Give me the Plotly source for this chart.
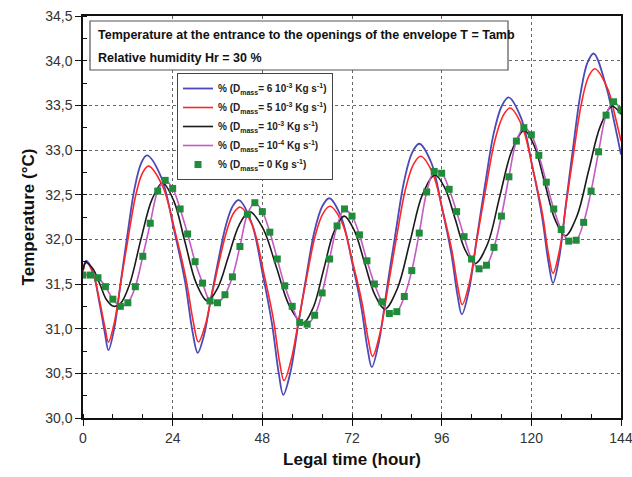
import plotly.graph_objects as go

# ---------------- data ----------------
blue_t = [0, 0.8, 2.6, 4.4, 5.9, 6.8, 8.35, 10.1, 11.95, 13.8, 15.55, 17.1, 20.9, 24.4, 27.3, 29.3,
          30.7, 32.35, 34.2, 36.2, 38.2, 40.05, 41.7, 45.0, 48.1, 50.6, 52.4, 53.6, 55.45, 57.55,
          59.75, 61.95, 64.05, 65.9, 69.1, 72.05, 74.45, 76.15, 77.3, 79.2, 81.35, 83.65, 85.95,
          88.1, 90.0, 93.2, 96.15, 98.55, 100.25, 101.4, 103.3, 105.4, 107.65, 109.9, 112.05,
          113.9, 117.25, 120.35, 122.85, 124.6, 125.8, 127.45, 129.3, 131.25, 133.2, 135.05,
          136.7, 140.1, 142.0, 144.0]
blue_v = [31.64, 31.76, 31.64, 31.29, 30.94, 30.76, 31.00, 31.52, 32.07, 32.57, 32.85, 32.94,
          32.70, 32.10, 31.53, 30.97, 30.73, 30.92, 31.33, 31.76, 32.15, 32.37, 32.44, 32.20,
          31.61, 31.05, 30.50, 30.26, 30.50, 31.03, 31.58, 32.09, 32.37, 32.46, 32.25, 31.74,
          31.25, 30.78, 30.57, 30.85, 31.45, 32.07, 32.65, 32.97, 33.07, 32.86, 32.34, 31.85,
          31.37, 31.16, 31.43, 32.01, 32.62, 33.18, 33.49, 33.59, 33.36, 32.80, 32.26, 31.74,
          31.51, 31.79, 32.41, 33.05, 33.64, 33.98, 34.08, 33.70, 33.35, 32.95]

red_t = [0, 0.8, 2.6, 4.4, 5.9, 6.8, 8.4, 10.2, 12.15, 14.1, 15.9, 17.5, 21.25, 24.75, 27.55,
         29.55, 30.9, 32.6, 34.5, 36.5, 38.5, 40.4, 42.1, 45.4, 48.4, 50.9, 52.6, 53.8, 55.65,
         57.75, 59.95, 62.15, 64.25, 66.1, 69.3, 72.25, 74.65, 76.35, 77.5, 79.45, 81.65, 83.95,
         86.25, 88.45, 90.4, 93.5, 96.4, 98.75, 100.4, 101.5, 103.4, 105.6, 107.9, 110.2, 112.4,
         114.3, 117.5, 120.5, 122.95, 124.65, 125.8, 127.5, 129.4, 131.4, 133.4, 135.3, 137.0,
         140.5, 142.3, 144.0]
red_v = [31.64, 31.74, 31.63, 31.32, 31.01, 30.85, 31.07, 31.54, 32.03, 32.49, 32.74, 32.82,
         32.60, 32.07, 31.56, 31.07, 30.85, 31.02, 31.38, 31.76, 32.10, 32.30, 32.36, 32.15,
         31.62, 31.12, 30.63, 30.42, 30.64, 31.10, 31.59, 32.04, 32.29, 32.37, 32.19, 31.73,
         31.30, 30.88, 30.69, 30.94, 31.47, 32.03, 32.55, 32.84, 32.93, 32.75, 32.30, 31.87,
         31.45, 31.27, 31.51, 32.04, 32.59, 33.10, 33.38, 33.47, 33.27, 32.77, 32.29, 31.82,
         31.62, 31.87, 32.42, 32.99, 33.52, 33.82, 33.91, 33.68, 33.40, 33.10]

black_t = [0, 0.8, 2.65, 4.5, 6.35, 8.2, 10.0, 12.5, 15.5, 18.5, 21.3, 24.3, 27.3, 30.3, 33.3,
           36.1, 38.95, 41.8, 44.6, 48.2, 51.75, 55.3, 58.9, 61.65, 64.4, 67.15, 69.9, 72.6,
           75.35, 78.1, 80.8, 84.15, 87.5, 90.85, 94.2, 96.9, 99.6, 102.3, 105.0, 108.3, 111.55,
           114.85, 118.1, 120.85, 123.6, 126.35, 129.1, 132.2, 135.35, 138.5, 141.6, 144.0]
black_v = [31.66, 31.74, 31.67, 31.50, 31.32, 31.25, 31.28, 31.50, 32.00, 32.45, 32.63, 32.43,
           31.97, 31.51, 31.31, 31.46, 31.81, 32.16, 32.31, 32.12, 31.69, 31.25, 31.06, 31.24,
           31.66, 32.08, 32.26, 32.10, 31.74, 31.38, 31.22, 31.45, 31.97, 32.50, 32.72, 32.57,
           32.23, 31.88, 31.73, 31.95, 32.48, 33.00, 33.22, 33.04, 32.63, 32.22, 32.04, 32.26,
           32.77, 33.27, 33.49, 33.40]

hours_2h = list(range(0, 145, 2))
magenta_v = [31.60, 31.60, 31.57, 31.47, 31.33, 31.25, 31.29, 31.47, 31.81, 32.18, 32.54, 32.66,
             32.57, 32.34, 32.06, 31.75, 31.51, 31.31, 31.29, 31.38, 31.58, 31.92, 32.28, 32.41,
             32.31, 32.08, 31.78, 31.48, 31.25, 31.07, 31.05, 31.15, 31.40, 31.78, 32.15, 32.34,
             32.26, 32.05, 31.76, 31.50, 31.30, 31.17, 31.19, 31.36, 31.65, 32.07, 32.53, 32.76,
             32.74, 32.56, 32.31, 32.03, 31.78, 31.67, 31.71, 31.91, 32.26, 32.70, 33.10, 33.25,
             33.17, 32.94, 32.64, 32.34, 32.11, 31.98, 31.99, 32.19, 32.54, 32.98, 33.39, 33.54,
             33.45]
green_v = [31.60, 31.60, 31.57, 31.47, 31.33, 31.25, 31.29, 31.47, 31.81, 32.18, 32.54, 32.66,
           32.57, 32.34, 32.06, 31.75, 31.51, 31.31, 31.29, 31.38, 31.58, 31.92, 32.28, 32.41,
           32.31, 32.08, 31.78, 31.48, 31.25, 31.07, 31.05, 31.15, 31.40, 31.78, 32.15, 32.34,
           32.26, 32.05, 31.76, 31.50, 31.30, 31.17, 31.19, 31.36, 31.65, 32.07, 32.53, 32.76,
           32.74, 32.56, 32.31, 32.03, 31.78, 31.67, 31.71, 31.91, 32.26, 32.70, 33.10, 33.25,
           33.17, 32.94, 32.64, 32.34, 32.11, 31.98, 31.99, 32.19, 32.54, 32.98, 33.39, 33.54,
           33.45]

series_names = [
    "% (D<sub>mass</sub>= 6 10<sup>-3</sup> Kg s<sup>-1</sup>)",
    "% (D<sub>mass</sub>= 5 10<sup>-3</sup> Kg s<sup>-1</sup>)",
    "% (D<sub>mass</sub>= 10<sup>-3</sup> Kg s<sup>-1</sup>)",
    "% (D<sub>mass</sub>= 10<sup>-4</sup> Kg s<sup>-1</sup>)",
    "% (D<sub>mass</sub>= 0 Kg s<sup>-1</sup>)",
]
x_ticks = [0, 24, 48, 72, 96, 120, 144]
title_lines = ["Temperature at the entrance to the openings of the envelope T = Tamb",
               "Relative humidity Hr = 30 %"]

# ---------------- figure ----------------
FONT = "Liberation Sans, Arial, sans-serif"
W, H = 632, 477
ML, MR, MT, MB = 83, 11, 16, 59
PW, PH = W - ML - MR, H - MT - MB


def px_to_paper_x(px):
    return (px - ML) / PW


def px_to_paper_y(py):
    return (H - MB - py) / PH


fig = go.Figure()
line_kw = dict(shape="spline", smoothing=1.0)
fig.add_trace(go.Scatter(x=blue_t, y=blue_v, mode="lines", name=series_names[0],
                         line=dict(color="#4a4ab8", width=1.8, **line_kw)))
fig.add_trace(go.Scatter(x=red_t, y=red_v, mode="lines", name=series_names[1],
                         line=dict(color="#ff2626", width=1.6, **line_kw)))
fig.add_trace(go.Scatter(x=black_t, y=black_v, mode="lines", name=series_names[2],
                         line=dict(color="#1a1a1a", width=1.6, **line_kw)))
fig.add_trace(go.Scatter(x=hours_2h, y=magenta_v, mode="lines", name=series_names[3],
                         line=dict(color="#c45ac4", width=1.6, **line_kw)))
fig.add_trace(go.Scatter(x=hours_2h, y=green_v, mode="markers", name=series_names[4],
                         marker=dict(symbol="square", size=7, color="#1f8c3a",
                                     line=dict(width=0))))

axis_common = dict(
    showline=True, linecolor="#111", linewidth=1.5, mirror=True,
    ticks="outside", ticklen=6, tickwidth=1.2, tickcolor="#111",
    showgrid=True, gridcolor="#666", gridwidth=1, griddash="dot",
    zeroline=False, tickfont=dict(family=FONT, size=14, color="#333"),
    automargin=False, ticklabeloverflow="allow",
)
fig.update_xaxes(range=[0, 144], tickvals=x_ticks,
                 minor=dict(dtick=8, ticks="inside", ticklen=4, tickcolor="#111", showgrid=False),
                 title=dict(text="<b>Legal time (hour)</b>", standoff=9,
                            font=dict(family=FONT, size=17, color="#111")),
                 **axis_common)
fig.update_yaxes(range=[30, 34.5], dtick=0.5, tick0=30, tickformat=".1f",
                 minor=dict(dtick=0.25, ticks="inside", ticklen=4, tickcolor="#111", showgrid=False),
                 title=dict(text="<b>Temperature (°C)</b>", standoff=6,
                            font=dict(family=FONT, size=17, color="#111")),
                 **axis_common)

# title box
fig.add_shape(type="rect", xref="paper", yref="paper",
              x0=px_to_paper_x(90), x1=px_to_paper_x(508),
              y0=px_to_paper_y(70), y1=px_to_paper_y(21),
              line=dict(color="#555", width=1.2), fillcolor="white", layer="above")
for i, (line_txt, py) in enumerate(zip(title_lines, [35, 58])):
    fig.add_annotation(xref="paper", yref="paper", x=px_to_paper_x(96), y=px_to_paper_y(py),
                       xanchor="left", yanchor="middle", showarrow=False,
                       text="<b>" + line_txt + "</b>",
                       font=dict(family=FONT, size=12.5, color="#111"))

fig.update_layout(
    width=W, height=H, autosize=False,
    margin=dict(l=ML, r=MR, t=MT, b=MB, pad=0),
    paper_bgcolor="white", plot_bgcolor="white",
    separators=",.",
    font=dict(family=FONT, color="#111"),
    legend=dict(x=px_to_paper_x(177), y=px_to_paper_y(73), xanchor="left", yanchor="top",
                bgcolor="white", bordercolor="#444", borderwidth=1,
                font=dict(family=FONT, size=10, color="#222", weight="bold"),
                itemwidth=30, tracegroupgap=0),
    showlegend=True,
)

fig.write_html("out.html")
